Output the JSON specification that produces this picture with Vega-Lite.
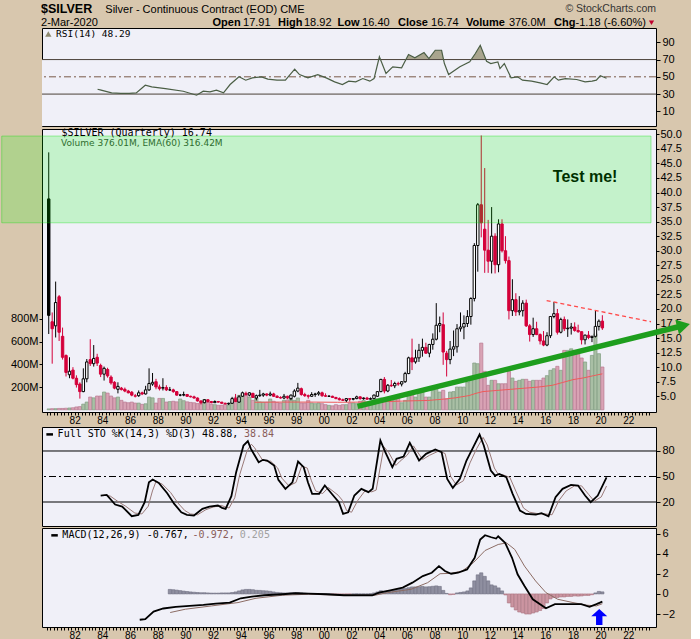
{
"$schema":"https://vega.github.io/schema/vega-lite/v6.json",
"background":"#D8C7AE",
"padding":{"left":0,"top":2,"right":0,"bottom":0},
"spacing":0,
"config":{"view":{"stroke":"#000000","strokeWidth":1,"fill":"#F0F0F8"},"axis":{"labelFont":"Liberation Sans","labelFontSize":11,"labelColor":"#000000","tickColor":"#000000","tickWidth":1,"grid":false,"domain":false,"labelOverlap":false,"labelBound":false,"labelFlush":false},"text":{"font":"Liberation Sans"}},
"resolve":{"scale":{"x":"independent","y":"independent"}},
"datasets":{
"q":[
{"t":1980.125,"o":38.9,"h":46.9,"l":15.7,"c":18.9,"v":8,"dir":"u"},
{"t":1980.375,"o":17.8,"h":19.4,"l":10.6,"c":16.6,"v":10,"dir":"d"},
{"t":1980.625,"o":17.1,"h":24.7,"l":15.1,"c":21.1,"v":10,"dir":"u"},
{"t":1980.875,"o":22.1,"h":22.4,"l":14.5,"c":16.0,"v":12,"dir":"d"},
{"t":1981.125,"o":15.3,"h":16.8,"l":11.3,"c":11.7,"v":12,"dir":"d"},
{"t":1981.375,"o":12.0,"h":12.2,"l":8.4,"c":9.1,"v":14,"dir":"d"},
{"t":1981.625,"o":8.7,"h":11.7,"l":8.1,"c":9.3,"v":16,"dir":"u"},
{"t":1981.875,"o":9.5,"h":10.0,"l":7.9,"c":8.1,"v":18,"dir":"d"},
{"t":1982.125,"o":8.1,"h":8.6,"l":6.5,"c":7.0,"v":25,"dir":"d"},
{"t":1982.375,"o":7.1,"h":7.4,"l":4.6,"c":5.8,"v":28,"dir":"d"},
{"t":1982.625,"o":5.8,"h":9.8,"l":5.7,"c":8.0,"v":50,"dir":"u"},
{"t":1982.875,"o":8.0,"h":11.4,"l":7.4,"c":10.9,"v":68,"dir":"u"},
{"t":1983.125,"o":11.3,"h":14.8,"l":10.2,"c":10.6,"v":112,"dir":"d"},
{"t":1983.375,"o":10.6,"h":13.8,"l":10.1,"c":11.5,"v":105,"dir":"u"},
{"t":1983.625,"o":11.7,"h":12.3,"l":10.2,"c":10.7,"v":121,"dir":"d"},
{"t":1983.875,"o":10.3,"h":10.6,"l":8.3,"c":8.8,"v":121,"dir":"d"},
{"t":1984.125,"o":8.8,"h":10.1,"l":7.7,"c":9.8,"v":156,"dir":"u"},
{"t":1984.375,"o":9.6,"h":9.9,"l":8.2,"c":8.5,"v":147,"dir":"d"},
{"t":1984.625,"o":8.3,"h":8.6,"l":7.0,"c":7.3,"v":121,"dir":"d"},
{"t":1984.875,"o":7.4,"h":7.6,"l":6.2,"c":6.4,"v":105,"dir":"d"},
{"t":1985.125,"o":6.2,"h":7.4,"l":5.5,"c":6.7,"v":112,"dir":"u"},
{"t":1985.375,"o":6.4,"h":6.6,"l":6.0,"c":6.15,"v":83,"dir":"d"},
{"t":1985.625,"o":6.2,"h":6.5,"l":5.7,"c":5.9,"v":68,"dir":"d"},
{"t":1985.875,"o":5.9,"h":6.1,"l":5.5,"c":5.6,"v":62,"dir":"d"},
{"t":1986.125,"o":5.7,"h":5.9,"l":5.0,"c":5.2,"v":68,"dir":"d"},
{"t":1986.375,"o":5.0,"h":5.4,"l":4.8,"c":5.1,"v":59,"dir":"d"},
{"t":1986.625,"o":5.1,"h":6.0,"l":4.9,"c":5.6,"v":59,"dir":"u"},
{"t":1986.875,"o":5.6,"h":5.8,"l":5.2,"c":5.4,"v":48,"dir":"d"},
{"t":1987.125,"o":5.4,"h":6.8,"l":5.3,"c":6.1,"v":53,"dir":"u"},
{"t":1987.375,"o":6.1,"h":9.8,"l":5.9,"c":7.2,"v":112,"dir":"u"},
{"t":1987.625,"o":7.1,"h":9.0,"l":6.8,"c":7.4,"v":105,"dir":"u"},
{"t":1987.875,"o":7.5,"h":8.0,"l":6.2,"c":6.6,"v":59,"dir":"d"},
{"t":1988.125,"o":6.6,"h":7.0,"l":6.0,"c":6.3,"v":100,"dir":"d"},
{"t":1988.375,"o":6.4,"h":8.1,"l":6.0,"c":6.5,"v":100,"dir":"u"},
{"t":1988.625,"o":6.5,"h":6.9,"l":5.9,"c":6.1,"v":68,"dir":"d"},
{"t":1988.875,"o":6.1,"h":6.6,"l":5.9,"c":6.1,"v":72,"dir":"u"},
{"t":1989.125,"o":6.1,"h":6.3,"l":5.6,"c":5.8,"v":75,"dir":"d"},
{"t":1989.375,"o":5.8,"h":5.9,"l":5.1,"c":5.2,"v":70,"dir":"d"},
{"t":1989.625,"o":5.2,"h":5.4,"l":5.0,"c":5.2,"v":95,"dir":"u"},
{"t":1989.875,"o":5.2,"h":5.8,"l":5.0,"c":5.3,"v":80,"dir":"u"},
{"t":1990.125,"o":5.3,"h":5.4,"l":4.9,"c":5.0,"v":70,"dir":"d"},
{"t":1990.375,"o":5.0,"h":5.1,"l":4.8,"c":4.9,"v":65,"dir":"d"},
{"t":1990.625,"o":4.9,"h":5.1,"l":4.6,"c":4.7,"v":62,"dir":"d"},
{"t":1990.875,"o":4.7,"h":4.8,"l":4.1,"c":4.2,"v":55,"dir":"d"},
{"t":1991.125,"o":4.2,"h":4.3,"l":3.6,"c":3.9,"v":60,"dir":"d"},
{"t":1991.375,"o":3.9,"h":4.5,"l":3.8,"c":4.4,"v":90,"dir":"u"},
{"t":1991.625,"o":4.4,"h":4.5,"l":3.9,"c":4.1,"v":68,"dir":"d"},
{"t":1991.875,"o":4.1,"h":4.2,"l":3.8,"c":3.9,"v":48,"dir":"d"},
{"t":1992.125,"o":3.9,"h":4.3,"l":3.9,"c":4.1,"v":45,"dir":"u"},
{"t":1992.375,"o":4.1,"h":4.2,"l":3.9,"c":4.0,"v":40,"dir":"d"},
{"t":1992.625,"o":4.0,"h":4.0,"l":3.7,"c":3.8,"v":40,"dir":"d"},
{"t":1992.875,"o":3.8,"h":3.9,"l":3.6,"c":3.7,"v":50,"dir":"d"},
{"t":1993.125,"o":3.7,"h":3.9,"l":3.5,"c":3.8,"v":42,"dir":"u"},
{"t":1993.375,"o":3.8,"h":4.9,"l":3.7,"c":4.6,"v":72,"dir":"u"},
{"t":1993.625,"o":4.6,"h":5.4,"l":4.0,"c":4.1,"v":110,"dir":"d"},
{"t":1993.875,"o":4.0,"h":5.2,"l":3.9,"c":4.9,"v":127,"dir":"u"},
{"t":1994.125,"o":5.0,"h":5.8,"l":4.9,"c":5.6,"v":135,"dir":"u"},
{"t":1994.375,"o":5.5,"h":5.8,"l":5.1,"c":5.3,"v":127,"dir":"d"},
{"t":1994.625,"o":5.2,"h":5.7,"l":5.0,"c":5.6,"v":112,"dir":"u"},
{"t":1994.875,"o":5.5,"h":5.6,"l":4.7,"c":4.8,"v":83,"dir":"d"},
{"t":1995.125,"o":4.7,"h":5.3,"l":4.3,"c":5.1,"v":104,"dir":"u"},
{"t":1995.375,"o":5.1,"h":6.1,"l":4.9,"c":5.2,"v":70,"dir":"u"},
{"t":1995.625,"o":5.2,"h":5.6,"l":4.9,"c":5.4,"v":68,"dir":"u"},
{"t":1995.875,"o":5.4,"h":5.5,"l":5.0,"c":5.2,"v":68,"dir":"d"},
{"t":1996.125,"o":5.2,"h":5.8,"l":5.0,"c":5.4,"v":95,"dir":"u"},
{"t":1996.375,"o":5.4,"h":5.6,"l":4.9,"c":5.0,"v":75,"dir":"d"},
{"t":1996.625,"o":5.0,"h":5.2,"l":4.7,"c":4.8,"v":65,"dir":"d"},
{"t":1996.875,"o":4.8,"h":5.0,"l":4.6,"c":4.7,"v":60,"dir":"d"},
{"t":1997.125,"o":4.7,"h":5.4,"l":4.5,"c":5.0,"v":83,"dir":"u"},
{"t":1997.375,"o":5.0,"h":5.1,"l":4.5,"c":4.7,"v":86,"dir":"d"},
{"t":1997.625,"o":4.6,"h":5.3,"l":4.3,"c":5.2,"v":97,"dir":"u"},
{"t":1997.875,"o":5.0,"h":6.2,"l":4.8,"c":5.9,"v":83,"dir":"u"},
{"t":1998.125,"o":5.9,"h":7.3,"l":5.7,"c":6.4,"v":104,"dir":"u"},
{"t":1998.375,"o":6.3,"h":6.5,"l":5.1,"c":5.3,"v":60,"dir":"d"},
{"t":1998.625,"o":5.3,"h":5.6,"l":4.9,"c":5.1,"v":60,"dir":"d"},
{"t":1998.875,"o":5.1,"h":5.3,"l":4.6,"c":5.0,"v":83,"dir":"d"},
{"t":1999.125,"o":5.0,"h":5.7,"l":4.9,"c":5.3,"v":60,"dir":"u"},
{"t":1999.375,"o":5.3,"h":5.6,"l":4.9,"c":5.4,"v":54,"dir":"u"},
{"t":1999.625,"o":5.4,"h":5.9,"l":5.1,"c":5.6,"v":60,"dir":"u"},
{"t":1999.875,"o":5.6,"h":5.8,"l":4.9,"c":5.1,"v":54,"dir":"d"},
{"t":2000.125,"o":5.1,"h":5.5,"l":4.9,"c":5.0,"v":45,"dir":"d"},
{"t":2000.375,"o":5.0,"h":5.2,"l":4.9,"c":5.0,"v":39,"dir":"u"},
{"t":2000.625,"o":5.0,"h":5.1,"l":4.7,"c":4.8,"v":35,"dir":"d"},
{"t":2000.875,"o":4.8,"h":4.9,"l":4.5,"c":4.6,"v":45,"dir":"d"},
{"t":2001.125,"o":4.6,"h":4.8,"l":4.3,"c":4.4,"v":39,"dir":"d"},
{"t":2001.375,"o":4.4,"h":4.6,"l":4.2,"c":4.3,"v":45,"dir":"d"},
{"t":2001.625,"o":4.3,"h":4.7,"l":4.0,"c":4.6,"v":45,"dir":"u"},
{"t":2001.875,"o":4.6,"h":4.7,"l":4.1,"c":4.5,"v":60,"dir":"d"},
{"t":2002.125,"o":4.5,"h":4.7,"l":4.3,"c":4.6,"v":60,"dir":"u"},
{"t":2002.375,"o":4.6,"h":5.1,"l":4.5,"c":4.9,"v":54,"dir":"u"},
{"t":2002.625,"o":4.9,"h":5.0,"l":4.4,"c":4.6,"v":75,"dir":"d"},
{"t":2002.875,"o":4.6,"h":4.8,"l":4.4,"c":4.7,"v":83,"dir":"u"},
{"t":2003.125,"o":4.7,"h":4.9,"l":4.4,"c":4.5,"v":54,"dir":"d"},
{"t":2003.375,"o":4.5,"h":4.8,"l":4.4,"c":4.6,"v":75,"dir":"u"},
{"t":2003.625,"o":4.6,"h":5.3,"l":4.5,"c":5.2,"v":89,"dir":"u"},
{"t":2003.875,"o":5.0,"h":5.9,"l":4.9,"c":5.8,"v":97,"dir":"u"},
{"t":2004.125,"o":5.8,"h":8.0,"l":5.7,"c":7.9,"v":104,"dir":"u"},
{"t":2004.375,"o":7.9,"h":8.3,"l":5.5,"c":5.9,"v":89,"dir":"d"},
{"t":2004.625,"o":5.9,"h":7.1,"l":5.7,"c":6.9,"v":75,"dir":"u"},
{"t":2004.875,"o":6.9,"h":7.8,"l":6.6,"c":6.8,"v":104,"dir":"d"},
{"t":2005.125,"o":6.8,"h":7.5,"l":6.4,"c":7.2,"v":112,"dir":"u"},
{"t":2005.375,"o":7.2,"h":7.5,"l":6.8,"c":7.1,"v":112,"dir":"d"},
{"t":2005.625,"o":7.1,"h":7.6,"l":6.7,"c":7.5,"v":62,"dir":"u"},
{"t":2005.875,"o":7.5,"h":9.2,"l":7.3,"c":8.9,"v":83,"dir":"u"},
{"t":2006.125,"o":8.9,"h":11.8,"l":8.8,"c":11.6,"v":127,"dir":"u"},
{"t":2006.375,"o":11.6,"h":14.9,"l":9.5,"c":10.9,"v":133,"dir":"d"},
{"t":2006.625,"o":10.9,"h":13.0,"l":10.6,"c":11.6,"v":112,"dir":"u"},
{"t":2006.875,"o":11.6,"h":14.0,"l":10.9,"c":12.9,"v":150,"dir":"u"},
{"t":2007.125,"o":12.9,"h":14.9,"l":11.8,"c":13.4,"v":160,"dir":"u"},
{"t":2007.375,"o":13.4,"h":14.2,"l":12.3,"c":12.4,"v":112,"dir":"d"},
{"t":2007.625,"o":12.4,"h":14.0,"l":11.7,"c":13.9,"v":112,"dir":"u"},
{"t":2007.875,"o":13.9,"h":15.8,"l":13.0,"c":14.8,"v":171,"dir":"u"},
{"t":2008.125,"o":14.8,"h":21.0,"l":14.6,"c":17.2,"v":185,"dir":"u"},
{"t":2008.375,"o":17.2,"h":18.7,"l":16.0,"c":17.5,"v":156,"dir":"u"},
{"t":2008.625,"o":17.3,"h":19.4,"l":10.4,"c":12.6,"v":171,"dir":"d"},
{"t":2008.875,"o":12.4,"h":12.8,"l":8.4,"c":11.3,"v":95,"dir":"d"},
{"t":2009.125,"o":11.3,"h":14.5,"l":10.5,"c":13.1,"v":156,"dir":"u"},
{"t":2009.375,"o":13.1,"h":16.3,"l":11.9,"c":13.5,"v":160,"dir":"u"},
{"t":2009.625,"o":13.5,"h":17.4,"l":12.5,"c":16.6,"v":200,"dir":"u"},
{"t":2009.875,"o":16.6,"h":19.4,"l":16.1,"c":16.9,"v":200,"dir":"u"},
{"t":2010.125,"o":16.9,"h":18.9,"l":14.8,"c":17.5,"v":200,"dir":"u"},
{"t":2010.375,"o":17.5,"h":19.8,"l":16.9,"c":18.7,"v":244,"dir":"u"},
{"t":2010.625,"o":18.7,"h":22.0,"l":17.3,"c":21.8,"v":288,"dir":"u"},
{"t":2010.875,"o":21.8,"h":31.3,"l":21.3,"c":30.9,"v":411,"dir":"u"},
{"t":2011.125,"o":30.9,"h":38.2,"l":26.4,"c":37.9,"v":405,"dir":"u"},
{"t":2011.375,"o":37.9,"h":49.8,"l":32.3,"c":34.8,"v":586,"dir":"d"},
{"t":2011.625,"o":33.7,"h":44.2,"l":26.2,"c":30.1,"v":338,"dir":"d"},
{"t":2011.875,"o":30.1,"h":35.3,"l":26.2,"c":28.2,"v":215,"dir":"d"},
{"t":2012.125,"o":28.2,"h":37.5,"l":26.1,"c":32.5,"v":259,"dir":"u"},
{"t":2012.375,"o":32.5,"h":33.0,"l":26.1,"c":27.6,"v":259,"dir":"d"},
{"t":2012.625,"o":27.6,"h":35.4,"l":26.3,"c":34.6,"v":229,"dir":"u"},
{"t":2012.875,"o":34.6,"h":35.4,"l":29.7,"c":30.0,"v":229,"dir":"d"},
{"t":2013.125,"o":30.0,"h":32.5,"l":27.8,"c":28.3,"v":229,"dir":"d"},
{"t":2013.375,"o":28.3,"h":29.0,"l":18.2,"c":19.7,"v":338,"dir":"d"},
{"t":2013.625,"o":19.7,"h":25.1,"l":18.8,"c":21.6,"v":279,"dir":"u"},
{"t":2013.875,"o":21.6,"h":22.7,"l":18.8,"c":19.5,"v":250,"dir":"d"},
{"t":2014.125,"o":19.5,"h":22.2,"l":18.9,"c":19.7,"v":259,"dir":"u"},
{"t":2014.375,"o":19.7,"h":21.5,"l":18.7,"c":21.0,"v":268,"dir":"u"},
{"t":2014.625,"o":21.0,"h":21.6,"l":16.9,"c":17.1,"v":268,"dir":"d"},
{"t":2014.875,"o":17.1,"h":17.4,"l":14.4,"c":15.6,"v":250,"dir":"d"},
{"t":2015.125,"o":15.6,"h":18.5,"l":15.2,"c":16.6,"v":259,"dir":"u"},
{"t":2015.375,"o":16.6,"h":17.8,"l":15.5,"c":15.6,"v":259,"dir":"d"},
{"t":2015.625,"o":15.6,"h":15.8,"l":13.9,"c":14.5,"v":259,"dir":"d"},
{"t":2015.875,"o":14.5,"h":16.2,"l":13.6,"c":13.8,"v":279,"dir":"d"},
{"t":2016.125,"o":13.8,"h":16.0,"l":13.6,"c":15.4,"v":300,"dir":"u"},
{"t":2016.375,"o":15.4,"h":18.8,"l":15.0,"c":18.7,"v":347,"dir":"u"},
{"t":2016.625,"o":18.7,"h":21.2,"l":18.4,"c":19.2,"v":361,"dir":"u"},
{"t":2016.875,"o":19.2,"h":20.0,"l":15.6,"c":16.0,"v":382,"dir":"d"},
{"t":2017.125,"o":16.0,"h":18.5,"l":15.8,"c":18.2,"v":347,"dir":"u"},
{"t":2017.375,"o":18.2,"h":18.7,"l":16.2,"c":16.6,"v":522,"dir":"d"},
{"t":2017.625,"o":16.6,"h":18.2,"l":15.2,"c":16.7,"v":522,"dir":"u"},
{"t":2017.875,"o":16.7,"h":17.6,"l":15.6,"c":16.9,"v":536,"dir":"u"},
{"t":2018.125,"o":16.9,"h":17.7,"l":16.1,"c":16.3,"v":522,"dir":"d"},
{"t":2018.375,"o":16.3,"h":17.3,"l":15.9,"c":16.1,"v":493,"dir":"d"},
{"t":2018.625,"o":16.1,"h":16.1,"l":13.9,"c":14.7,"v":455,"dir":"d"},
{"t":2018.875,"o":14.7,"h":15.6,"l":13.9,"c":15.5,"v":420,"dir":"u"},
{"t":2019.125,"o":15.5,"h":16.2,"l":14.8,"c":15.1,"v":347,"dir":"d"},
{"t":2019.375,"o":15.1,"h":15.4,"l":14.3,"c":15.3,"v":478,"dir":"u"},
{"t":2019.625,"o":15.3,"h":19.7,"l":15.1,"c":17.0,"v":668,"dir":"u"},
{"t":2019.875,"o":17.0,"h":18.2,"l":16.3,"c":17.9,"v":493,"dir":"u"},
{"t":2020.125,"o":17.91,"h":18.92,"l":16.4,"c":16.74,"v":376,"dir":"d"}
],
"ema":[{"t":1995.0,"v":66},{"t":1997,"v":68},{"t":1999,"v":68},{"t":2001,"v":66},{"t":2003,"v":68},{"t":2004.5,"v":72},{"t":2006,"v":78},{"t":2007.5,"v":82},{"t":2008.5,"v":92},{"t":2009.5,"v":105},{"t":2010.5,"v":125},{"t":2011.0,"v":145},{"t":2011.5,"v":160},{"t":2012.5,"v":170},{"t":2013.5,"v":180},{"t":2014.5,"v":190},{"t":2015.5,"v":200},{"t":2016.5,"v":215},{"t":2017.25,"v":240},{"t":2018,"v":265},{"t":2018.75,"v":280},{"t":2019.5,"v":300},{"t":2020.125,"v":316}],
"rsi":[{"t":1983.95,"v":35.6},{"t":1984.2,"v":34.5},{"t":1984.95,"v":31.4},{"t":1985.6,"v":30.9},{"t":1986.2,"v":30.9},{"t":1986.7,"v":31.4},{"t":1987.34,"v":40.3},{"t":1987.8,"v":38.4},{"t":1988.77,"v":36.4},{"t":1990.04,"v":33.3},{"t":1990.99,"v":28.7},{"t":1991.46,"v":33.3},{"t":1991.94,"v":32.5},{"t":1992.4,"v":34.5},{"t":1992.9,"v":31.4},{"t":1993.37,"v":41.1},{"t":1994.0,"v":50},{"t":1994.48,"v":46.1},{"t":1994.95,"v":48.8},{"t":1995.6,"v":50},{"t":1996.05,"v":47.3},{"t":1996.7,"v":46.1},{"t":1997.3,"v":46.1},{"t":1997.96,"v":58.8},{"t":1998.3,"v":52.6},{"t":1998.9,"v":48.8},{"t":1999.6,"v":52.6},{"t":2000.2,"v":48.8},{"t":2000.8,"v":44.2},{"t":2001.35,"v":41.1},{"t":2001.8,"v":45},{"t":2002.3,"v":44.2},{"t":2002.8,"v":48},{"t":2003.3,"v":45},{"t":2003.6,"v":48},{"t":2003.98,"v":73.2},{"t":2004.45,"v":53.8},{"t":2004.93,"v":61.6},{"t":2005.56,"v":60.4},{"t":2006.05,"v":75.8},{"t":2006.5,"v":72},{"t":2007.15,"v":78.2},{"t":2007.5,"v":71.2},{"t":2007.95,"v":80.8},{"t":2008.4,"v":80.8},{"t":2008.6,"v":65.4},{"t":2008.9,"v":52.6},{"t":2009.7,"v":61.6},{"t":2010.4,"v":67.3},{"t":2010.8,"v":77},{"t":2011.15,"v":86.6},{"t":2011.6,"v":68},{"t":2011.9,"v":65.4},{"t":2012.4,"v":67.3},{"t":2012.55,"v":59.6},{"t":2012.86,"v":65.4},{"t":2013.34,"v":48.8},{"t":2013.8,"v":50},{"t":2014.15,"v":46.1},{"t":2014.8,"v":45},{"t":2015.4,"v":43},{"t":2015.9,"v":41.1},{"t":2016.4,"v":50},{"t":2016.7,"v":46.1},{"t":2017.2,"v":48},{"t":2018.0,"v":46.9},{"t":2018.6,"v":44.2},{"t":2019.1,"v":45},{"t":2019.4,"v":46.1},{"t":2019.68,"v":51.2},{"t":2020.125,"v":48.29}],
"sto":[{"t":1984.17,"k":27.6},{"t":1984.6,"k":28.4},{"t":1985.2,"k":17},{"t":1985.7,"k":14.7},{"t":1986.38,"k":3.3},{"t":1986.85,"k":4.9},{"t":1987.3,"k":19.8},{"t":1987.6,"k":43.2},{"t":1987.87,"k":46.4},{"t":1988.3,"k":42.5},{"t":1988.9,"k":30.4},{"t":1989.4,"k":17.8},{"t":1989.9,"k":8},{"t":1990.3,"k":4.9},{"t":1990.8,"k":4.1},{"t":1991.4,"k":11.9},{"t":1991.9,"k":14.7},{"t":1992.5,"k":15.9},{"t":1992.8,"k":13.1},{"t":1993.05,"k":11.9},{"t":1993.46,"k":26.8},{"t":1993.8,"k":55.1},{"t":1994.32,"k":86.4},{"t":1994.63,"k":91.5},{"t":1994.85,"k":82.5},{"t":1995.4,"k":66.8},{"t":1995.7,"k":69.6},{"t":1996.0,"k":68.8},{"t":1996.5,"k":62.9},{"t":1996.8,"k":46},{"t":1997.3,"k":35.5},{"t":1997.8,"k":43.2},{"t":1998.2,"k":67.6},{"t":1998.6,"k":61},{"t":1998.9,"k":43.2},{"t":1999.2,"k":29.6},{"t":1999.7,"k":29.6},{"t":2000.1,"k":39.4},{"t":2000.8,"k":25.6},{"t":2001.1,"k":19.8},{"t":2001.4,"k":6},{"t":2001.76,"k":7.9},{"t":2002.2,"k":27.6},{"t":2002.7,"k":35.5},{"t":2003.2,"k":31.6},{"t":2003.5,"k":35.5},{"t":2004.05,"k":92.3},{"t":2004.4,"k":78.6},{"t":2004.9,"k":61},{"t":2005.2,"k":70.8},{"t":2005.7,"k":73.5},{"t":2006.14,"k":89.6},{"t":2006.8,"k":68.8},{"t":2007.3,"k":76.6},{"t":2007.95,"k":81.7},{"t":2008.4,"k":78.6},{"t":2008.8,"k":47.2},{"t":2009.2,"k":36.6},{"t":2009.7,"k":47.2},{"t":2010.17,"k":68.8},{"t":2010.65,"k":84.5},{"t":2011.1,"k":99.4},{"t":2011.4,"k":86.4},{"t":2011.9,"k":57},{"t":2012.2,"k":51.1},{"t":2012.5,"k":53.1},{"t":2013.0,"k":49.2},{"t":2013.45,"k":29.6},{"t":2013.97,"k":10},{"t":2014.4,"k":6},{"t":2015.1,"k":5.3},{"t":2015.5,"k":6.9},{"t":2016.0,"k":3.3},{"t":2016.5,"k":25.6},{"t":2017.0,"k":35.5},{"t":2017.6,"k":40.2},{"t":2018.1,"k":39.4},{"t":2018.6,"k":27.6},{"t":2019.0,"k":19.8},{"t":2019.5,"k":27.6},{"t":2020.125,"k":48.88}],
"stod":[{"t":1984.4,"d":28},{"t":1984.85,"d":27},{"t":1985.45,"d":20},{"t":1985.95,"d":15},{"t":1986.6,"d":7},{"t":1987.1,"d":6},{"t":1987.55,"d":15},{"t":1987.85,"d":33},{"t":1988.1,"d":44},{"t":1988.55,"d":41},{"t":1989.15,"d":31},{"t":1989.65,"d":19},{"t":1990.15,"d":10},{"t":1990.55,"d":6},{"t":1991.05,"d":5},{"t":1991.65,"d":11},{"t":1992.15,"d":14},{"t":1992.75,"d":16},{"t":1993.05,"d":14},{"t":1993.3,"d":13},{"t":1993.7,"d":25},{"t":1994.05,"d":52},{"t":1994.57,"d":80},{"t":1994.88,"d":88},{"t":1995.1,"d":84},{"t":1995.65,"d":70},{"t":1995.95,"d":68},{"t":1996.25,"d":68},{"t":1996.75,"d":60},{"t":1997.05,"d":48},{"t":1997.55,"d":39},{"t":1998.05,"d":43},{"t":1998.45,"d":62},{"t":1998.85,"d":60},{"t":1999.15,"d":45},{"t":1999.45,"d":33},{"t":1999.95,"d":30},{"t":2000.35,"d":37},{"t":2001.05,"d":28},{"t":2001.35,"d":22},{"t":2001.65,"d":10},{"t":2002.0,"d":8},{"t":2002.45,"d":22},{"t":2002.95,"d":33},{"t":2003.45,"d":32},{"t":2003.75,"d":34},{"t":2004.3,"d":85},{"t":2004.65,"d":78},{"t":2005.15,"d":63},{"t":2005.45,"d":68},{"t":2005.95,"d":75},{"t":2006.4,"d":86},{"t":2007.05,"d":70},{"t":2007.55,"d":75},{"t":2008.2,"d":80},{"t":2008.65,"d":77},{"t":2009.05,"d":50},{"t":2009.45,"d":40},{"t":2009.95,"d":45},{"t":2010.42,"d":66},{"t":2010.9,"d":83},{"t":2011.35,"d":96},{"t":2011.65,"d":87},{"t":2012.15,"d":60},{"t":2012.45,"d":52},{"t":2012.75,"d":52},{"t":2013.25,"d":49},{"t":2013.7,"d":32},{"t":2014.22,"d":13},{"t":2014.65,"d":8},{"t":2015.35,"d":6},{"t":2015.75,"d":6},{"t":2016.25,"d":5},{"t":2016.75,"d":22},{"t":2017.25,"d":33},{"t":2017.85,"d":39},{"t":2018.35,"d":39},{"t":2018.85,"d":29},{"t":2019.25,"d":21},{"t":2019.75,"d":26},{"t":2020.125,"d":38.84}],
"macd":[{"t":1986.7,"m":-2.57},{"t":1987.1,"m":-2.5},{"t":1987.7,"m":-1.75},{"t":1988.4,"m":-1.45},{"t":1989.3,"m":-1.29},{"t":1990.3,"m":-1.19},{"t":1991.3,"m":-1.09},{"t":1992.2,"m":-0.96},{"t":1993.2,"m":-0.86},{"t":1994.0,"m":-0.43},{"t":1994.8,"m":-0.26},{"t":1995.7,"m":-0.13},{"t":1997.0,"m":-0.03},{"t":1997.96,"m":0.07},{"t":1998.9,"m":0.03},{"t":2000.2,"m":-0.03},{"t":2001.45,"m":-0.13},{"t":2002.7,"m":-0.13},{"t":2003.5,"m":-0.13},{"t":2003.98,"m":0.13},{"t":2004.8,"m":0.36},{"t":2005.7,"m":0.63},{"t":2006.4,"m":1.12},{"t":2007.15,"m":1.78},{"t":2007.8,"m":2.11},{"t":2008.32,"m":2.77},{"t":2008.75,"m":2.28},{"t":2009.2,"m":2.01},{"t":2009.7,"m":2.11},{"t":2010.35,"m":2.44},{"t":2010.9,"m":3.6},{"t":2011.3,"m":5.41},{"t":2011.65,"m":5.84},{"t":2012.1,"m":5.64},{"t":2012.45,"m":5.51},{"t":2012.6,"m":5.74},{"t":2013.1,"m":5.08},{"t":2013.6,"m":3.6},{"t":2014.0,"m":1.95},{"t":2014.5,"m":0.79},{"t":2015.1,"m":-0.53},{"t":2016.05,"m":-1.42},{"t":2016.7,"m":-1.02},{"t":2017.6,"m":-1.02},{"t":2018.6,"m":-1.02},{"t":2019.2,"m":-1.29},{"t":2019.7,"m":-1.02},{"t":2020.125,"m":-0.767}],
"sig":[{"t":1988.9,"s":-1.85},{"t":1990.0,"s":-1.52},{"t":1991.9,"s":-1.19},{"t":1993.8,"s":-0.86},{"t":1995.1,"s":-0.43},{"t":1997.0,"s":-0.13},{"t":1998.9,"s":-0.03},{"t":2001.45,"s":-0.13},{"t":2003.7,"s":-0.13},{"t":2004.6,"s":0.13},{"t":2006.3,"s":0.46},{"t":2007.5,"s":1.12},{"t":2008.4,"s":2.01},{"t":2009.2,"s":2.05},{"t":2010.0,"s":2.28},{"t":2010.8,"s":3.1},{"t":2011.65,"s":4.32},{"t":2012.6,"s":4.92},{"t":2013.2,"s":5.08},{"t":2013.8,"s":4.42},{"t":2014.5,"s":2.77},{"t":2015.3,"s":1.29},{"t":2016.05,"s":0.13},{"t":2016.9,"s":-0.53},{"t":2018.0,"s":-0.86},{"t":2019.0,"s":-1.12},{"t":2019.7,"s":-1.19},{"t":2020.125,"s":-0.972}],
"hist":[{"t":1988.875,"h":0.45},{"t":1989.125,"h":0.42},{"t":1989.375,"h":0.38},{"t":1989.625,"h":0.33},{"t":1989.875,"h":0.28},{"t":1990.125,"h":0.24},{"t":1990.375,"h":0.2},{"t":1990.625,"h":0.17},{"t":1990.875,"h":0.14},{"t":1991.125,"h":0.12},{"t":1991.375,"h":0.12},{"t":1991.625,"h":0.1},{"t":1991.875,"h":0.08},{"t":1992.125,"h":0.08},{"t":1992.375,"h":0.08},{"t":1992.625,"h":0.1},{"t":1992.875,"h":0.1},{"t":1993.125,"h":0.1},{"t":1993.375,"h":0.14},{"t":1993.625,"h":0.2},{"t":1993.875,"h":0.3},{"t":1994.125,"h":0.4},{"t":1994.375,"h":0.45},{"t":1994.625,"h":0.45},{"t":1994.875,"h":0.42},{"t":1995.125,"h":0.36},{"t":1995.375,"h":0.35},{"t":1995.625,"h":0.32},{"t":1995.875,"h":0.3},{"t":1996.125,"h":0.26},{"t":1996.375,"h":0.2},{"t":1996.625,"h":0.15},{"t":1996.875,"h":0.12},{"t":1997.125,"h":0.1},{"t":1997.375,"h":0.1},{"t":1997.625,"h":0.12},{"t":1997.875,"h":0.14},{"t":1998.125,"h":0.14},{"t":1998.375,"h":0.1},{"t":1998.625,"h":0.06},{"t":1998.875,"h":0.04},{"t":1999.125,"h":0.03},{"t":1999.375,"h":0.03},{"t":1999.625,"h":0.03},{"t":1999.875,"h":0.02},{"t":2000.125,"h":0.01},{"t":2000.375,"h":0.01},{"t":2000.625,"h":-0.01},{"t":2000.875,"h":-0.02},{"t":2001.125,"h":-0.03},{"t":2001.375,"h":-0.03},{"t":2001.625,"h":-0.02},{"t":2001.875,"h":-0.01},{"t":2002.125,"h":0.0},{"t":2002.375,"h":0.01},{"t":2002.625,"h":0.0},{"t":2002.875,"h":0.0},{"t":2003.125,"h":0.0},{"t":2003.375,"h":0.02},{"t":2003.625,"h":0.1},{"t":2003.875,"h":0.2},{"t":2004.125,"h":0.32},{"t":2004.375,"h":0.25},{"t":2004.625,"h":0.28},{"t":2004.875,"h":0.32},{"t":2005.125,"h":0.42},{"t":2005.375,"h":0.45},{"t":2005.625,"h":0.5},{"t":2005.875,"h":0.55},{"t":2006.125,"h":0.62},{"t":2006.375,"h":0.7},{"t":2006.625,"h":0.7},{"t":2006.875,"h":0.72},{"t":2007.125,"h":0.75},{"t":2007.375,"h":0.7},{"t":2007.625,"h":0.72},{"t":2007.875,"h":0.76},{"t":2008.125,"h":0.8},{"t":2008.375,"h":0.75},{"t":2008.625,"h":0.35},{"t":2008.875,"h":0.05},{"t":2009.125,"h":-0.08},{"t":2009.375,"h":-0.05},{"t":2009.625,"h":0.1},{"t":2009.875,"h":0.15},{"t":2010.125,"h":0.2},{"t":2010.375,"h":0.3},{"t":2010.625,"h":0.6},{"t":2010.875,"h":1.3},{"t":2011.125,"h":1.9},{"t":2011.375,"h":2.1},{"t":2011.625,"h":1.75},{"t":2011.875,"h":1.3},{"t":2012.125,"h":0.9},{"t":2012.375,"h":0.8},{"t":2012.625,"h":0.6},{"t":2012.875,"h":0.3},{"t":2013.125,"h":-0.1},{"t":2013.375,"h":-0.9},{"t":2013.625,"h":-1.3},{"t":2013.875,"h":-1.6},{"t":2014.125,"h":-1.8},{"t":2014.375,"h":-1.9},{"t":2014.625,"h":-2.0},{"t":2014.875,"h":-2.0},{"t":2015.125,"h":-1.9},{"t":2015.375,"h":-1.8},{"t":2015.625,"h":-1.65},{"t":2015.875,"h":-1.45},{"t":2016.125,"h":-0.9},{"t":2016.375,"h":-0.5},{"t":2016.625,"h":-0.35},{"t":2016.875,"h":-0.35},{"t":2017.125,"h":-0.3},{"t":2017.375,"h":-0.3},{"t":2017.625,"h":-0.25},{"t":2017.875,"h":-0.25},{"t":2018.125,"h":-0.2},{"t":2018.375,"h":-0.22},{"t":2018.625,"h":-0.2},{"t":2018.875,"h":-0.15},{"t":2019.125,"h":-0.15},{"t":2019.375,"h":-0.08},{"t":2019.625,"h":0.1},{"t":2019.875,"h":0.25},{"t":2020.125,"h":0.205}]
},
"vconcat":[
{
"width":614,"height":98,
"resolve":{"axis":{"x":"independent","y":"independent"}},
"layer":[
{"data":{"name":"rsi"},"mark":{"type":"area","color":"#A9A58E"},"encoding":{"x":{"field":"t","type":"quantitative","scale":{"domain":[1980,2023.64],"nice":false,"zero":false},"axis":null},"y":{"field":"v","type":"quantitative","title":null,"scale":{"domain":[-7,106.6],"nice":false,"zero":false},"axis":{"orient":"right","values":[10,30,50,70,90],"tickSize":4,"labelPadding":2,"labelOverlap":false,"title":null,"domain":false,"grid":false}},"y2":{"datum":70}}},
{"data":{"values":[{}]},"mark":{"type":"rect","color":"#F0F0F8"},"encoding":{"x":{"datum":1980,"axis":null},"x2":{"datum":2023.64},"y":{"datum":70,"axis":null},"y2":{"datum":-7}}},
{"data":{"values":[{}]},"mark":{"type":"rule","color":"#4A4038","strokeWidth":1},"encoding":{"y":{"datum":70,"axis":null}}},
{"data":{"values":[{}]},"mark":{"type":"rule","color":"#4A4038","strokeWidth":1},"encoding":{"y":{"datum":30,"axis":null}}},
{"data":{"values":[{}]},"mark":{"type":"rule","color":"#7A5A48","strokeWidth":1,"strokeDash":[7,3,2,3]},"encoding":{"y":{"datum":50,"axis":null}}},
{"data":{"name":"rsi"},"mark":{"type":"line","color":"#4B5E45","strokeWidth":1.2},"encoding":{"x":{"field":"t","type":"quantitative","axis":null},"y":{"field":"v","type":"quantitative","title":null,"axis":null}}},
{"data":{"values":[{}]},"mark":{"type":"point","shape":"triangle-up","filled":true,"color":"#8E8A70","size":40,"opacity":1},"encoding":{"x":{"datum":1980.45,"axis":null},"y":{"datum":99.6,"axis":null}}},
{"data":{"values":[{}]},"mark":{"type":"text","text":"RSI(14) 48.29","font":"DejaVu Sans Mono","fontSize":9.5,"align":"left","baseline":"middle","color":"#000000"},"encoding":{"x":{"datum":1981.0,"axis":null},"y":{"datum":99.6,"axis":null}}},
{"data":{"values":[{}]},"mark":{"type":"text","text":"$SILVER","fontSize":12.5,"fontWeight":"bold","align":"left","baseline":"alphabetic","color":"#000000"},"encoding":{"x":{"datum":1979.93,"axis":null},"y":{"datum":124.0,"axis":null}}},
{"data":{"values":[{}]},"mark":{"type":"text","text":"Silver - Continuous Contract (EOD) CME","fontSize":11,"align":"left","baseline":"alphabetic","color":"#000000"},"encoding":{"x":{"datum":1984.5,"axis":null},"y":{"datum":124.0,"axis":null}}},
{"data":{"values":[{}]},"mark":{"type":"text","text":"© StockCharts.com","fontSize":10.5,"align":"right","baseline":"alphabetic","color":"#333333"},"encoding":{"x":{"datum":2023.64,"axis":null},"y":{"datum":124.6,"axis":null}}},
{"data":{"values":[{}]},"mark":{"type":"text","text":"2-Mar-2020","fontSize":11,"align":"left","baseline":"alphabetic","color":"#000000"},"encoding":{"x":{"datum":1979.93,"axis":null},"y":{"datum":109.0,"axis":null}}},
{"data":{"values":[{}]},"mark":{"type":"text","text":"Open","fontSize":11,"fontWeight":"bold","align":"left","baseline":"alphabetic","color":"#000000"},"encoding":{"x":{"datum":1992.12,"axis":null},"y":{"datum":109.0,"axis":null}}},
{"data":{"values":[{}]},"mark":{"type":"text","text":"17.91","fontSize":11,"align":"left","baseline":"alphabetic","color":"#000000"},"encoding":{"x":{"datum":1994.29,"axis":null},"y":{"datum":109.0,"axis":null}}},
{"data":{"values":[{}]},"mark":{"type":"text","text":"High","fontSize":11,"fontWeight":"bold","align":"left","baseline":"alphabetic","color":"#000000"},"encoding":{"x":{"datum":1996.77,"axis":null},"y":{"datum":109.0,"axis":null}}},
{"data":{"values":[{}]},"mark":{"type":"text","text":"18.92","fontSize":11,"align":"left","baseline":"alphabetic","color":"#000000"},"encoding":{"x":{"datum":1998.62,"axis":null},"y":{"datum":109.0,"axis":null}}},
{"data":{"values":[{}]},"mark":{"type":"text","text":"Low","fontSize":11,"fontWeight":"bold","align":"left","baseline":"alphabetic","color":"#000000"},"encoding":{"x":{"datum":2001.0,"axis":null},"y":{"datum":109.0,"axis":null}}},
{"data":{"values":[{}]},"mark":{"type":"text","text":"16.40","fontSize":11,"align":"left","baseline":"alphabetic","color":"#000000"},"encoding":{"x":{"datum":2002.75,"axis":null},"y":{"datum":109.0,"axis":null}}},
{"data":{"values":[{}]},"mark":{"type":"text","text":"Close","fontSize":11,"fontWeight":"bold","align":"left","baseline":"alphabetic","color":"#000000"},"encoding":{"x":{"datum":2005.3,"axis":null},"y":{"datum":109.0,"axis":null}}},
{"data":{"values":[{}]},"mark":{"type":"text","text":"16.74","fontSize":11,"align":"left","baseline":"alphabetic","color":"#000000"},"encoding":{"x":{"datum":2007.65,"axis":null},"y":{"datum":109.0,"axis":null}}},
{"data":{"values":[{}]},"mark":{"type":"text","text":"Volume","fontSize":11,"fontWeight":"bold","align":"left","baseline":"alphabetic","color":"#000000"},"encoding":{"x":{"datum":2010.14,"axis":null},"y":{"datum":109.0,"axis":null}}},
{"data":{"values":[{}]},"mark":{"type":"text","text":"376.0M","fontSize":11,"align":"left","baseline":"alphabetic","color":"#000000"},"encoding":{"x":{"datum":2013.19,"axis":null},"y":{"datum":109.0,"axis":null}}},
{"data":{"values":[{}]},"mark":{"type":"text","text":"Chg","fontSize":11,"fontWeight":"bold","align":"left","baseline":"alphabetic","color":"#000000"},"encoding":{"x":{"datum":2016.39,"axis":null},"y":{"datum":109.0,"axis":null}}},
{"data":{"values":[{}]},"mark":{"type":"text","text":"-1.18 (-6.60%)","fontSize":11,"align":"left","baseline":"alphabetic","color":"#000000"},"encoding":{"x":{"datum":2017.92,"axis":null},"y":{"datum":109.0,"axis":null}}},
{"data":{"values":[{}]},"mark":{"type":"point","shape":"triangle-down","filled":true,"color":"#C0002E","size":28,"opacity":1},"encoding":{"x":{"datum":2023.32,"axis":null},"y":{"datum":112.6,"axis":null}}}
]
},
{
"width":614,"height":283,
"layer":[
{"resolve":{"axis":{"x":"independent","y":"independent"}},"layer":[
{"data":{"name":"q"},"mark":{"type":"bar","width":3.2,"strokeWidth":0.7},"encoding":{"x":{"field":"t","type":"quantitative","title":null,"scale":{"domain":[1980,2023.64],"nice":false,"zero":false},"axis":{"orient":"bottom","values":[1980,1980.25,1980.5,1980.75,1981,1981.25,1981.5,1981.75,1982,1982.25,1982.5,1982.75,1983,1983.25,1983.5,1983.75,1984,1984.25,1984.5,1984.75,1985,1985.25,1985.5,1985.75,1986,1986.25,1986.5,1986.75,1987,1987.25,1987.5,1987.75,1988,1988.25,1988.5,1988.75,1989,1989.25,1989.5,1989.75,1990,1990.25,1990.5,1990.75,1991,1991.25,1991.5,1991.75,1992,1992.25,1992.5,1992.75,1993,1993.25,1993.5,1993.75,1994,1994.25,1994.5,1994.75,1995,1995.25,1995.5,1995.75,1996,1996.25,1996.5,1996.75,1997,1997.25,1997.5,1997.75,1998,1998.25,1998.5,1998.75,1999,1999.25,1999.5,1999.75,2000,2000.25,2000.5,2000.75,2001,2001.25,2001.5,2001.75,2002,2002.25,2002.5,2002.75,2003,2003.25,2003.5,2003.75,2004,2004.25,2004.5,2004.75,2005,2005.25,2005.5,2005.75,2006,2006.25,2006.5,2006.75,2007,2007.25,2007.5,2007.75,2008,2008.25,2008.5,2008.75,2009,2009.25,2009.5,2009.75,2010,2010.25,2010.5,2010.75,2011,2011.25,2011.5,2011.75,2012,2012.25,2012.5,2012.75,2013,2013.25,2013.5,2013.75,2014,2014.25,2014.5,2014.75,2015,2015.25,2015.5,2015.75,2016,2016.25,2016.5,2016.75,2017,2017.25,2017.5,2017.75,2018,2018.25,2018.5,2018.75,2019,2019.25,2019.5,2019.75,2020,2020.25,2020.5,2020.75,2021,2021.25,2021.5,2021.75,2022,2022.25,2022.5,2022.75,2023,2023.25,2023.5],"labelExpr":"(datum.value % 2 == 0 && datum.value > 1980) ? substring(toString(datum.value), 2) : ''","tickSize":3,"labelPadding":0,"labelFontSize":10,"labelOverlap":false,"labelBound":false,"labelFlush":false,"domain":false,"grid":false,"title":null}},"y":{"field":"v","type":"quantitative","title":null,"scale":{"domain":[-19.3,2467],"nice":false,"zero":false},"axis":{"orient":"left","values":[200,400,600,800],"labelExpr":"datum.value + 'M'","tickSize":3,"labelPadding":1,"labelOverlap":false,"title":null,"domain":false,"grid":false}},"y2":{"datum":0},"fill":{"condition":{"test":"datum.dir == 'u'","value":"#A9BFA5"},"value":"#D9A3B5"},"stroke":{"condition":{"test":"datum.dir == 'u'","value":"#7F9C7F"},"value":"#B97990"}}},
{"data":{"name":"ema"},"mark":{"type":"line","color":"#EE5A5A","strokeWidth":1},"encoding":{"x":{"field":"t","type":"quantitative","title":null,"axis":null},"y":{"field":"v","type":"quantitative","title":null,"axis":null}}}
]},
{"resolve":{"axis":{"x":"independent","y":"independent"}},"layer":[
{"data":{"name":"q"},"mark":{"type":"rule","strokeWidth":1},"encoding":{"x":{"field":"t","type":"quantitative","title":null,"axis":null},"y":{"field":"l","type":"quantitative","title":null,"scale":{"domain":[2.3,50.91],"nice":false,"zero":false},"axis":{"orient":"right","values":[5,7.5,10,12.5,15,17.5,20,22.5,25,27.5,30,32.5,35,37.5,40,42.5,45,47.5,50],"format":".1f","tickSize":3,"labelPadding":1,"labelOverlap":false,"title":null,"domain":false,"grid":false}},"y2":{"field":"h"},"color":{"condition":{"test":"datum.dir == 'u'","value":"#000000"},"value":"#D4003A"}}},
{"data":{"name":"q"},"mark":{"type":"bar","width":2.4,"strokeWidth":1},"encoding":{"x":{"field":"t","type":"quantitative","title":null,"axis":null},"y":{"field":"o","type":"quantitative","title":null,"axis":null},"y2":{"field":"c"},"fill":{"condition":[{"test":"datum.c > datum.o","value":"#FFFFFF"},{"test":"datum.dir == 'u'","value":"#000000"}],"value":"#D4003A"},"stroke":{"condition":{"test":"datum.dir == 'u'","value":"#000000"},"value":"#D4003A"}}},
{"data":{"values":[{}]},"mark":{"type":"text","text":"Test me!","fontSize":16,"fontWeight":"bold","align":"center","baseline":"middle","color":"#000000"},"encoding":{"x":{"datum":2018.88,"axis":null},"y":{"datum":42.62,"axis":null}}},
{"data":{"values":[{}]},"mark":{"type":"rect","fill":"#00FF00","fillOpacity":0.18,"stroke":"#00DD00","strokeOpacity":0.35,"strokeWidth":1,"clip":false},"encoding":{"x":{"datum":1976.73,"axis":null},"x2":{"datum":2023.64},"y":{"datum":34.8,"axis":null},"y2":{"datum":49.7}}},
{"data":{"values":[{}]},"mark":{"type":"rule","color":"#FF4A4A","strokeWidth":1.3,"strokeDash":[4,3]},"encoding":{"x":{"datum":2016.1,"axis":null},"x2":{"datum":2023.64},"y":{"datum":21.44,"axis":null},"y2":{"datum":17.8}}},
{"data":{"values":[{}]},"mark":{"type":"rule","color":"#1E9E1E","strokeWidth":5.5,"clip":false},"encoding":{"x":{"datum":2002.44,"axis":null},"x2":{"datum":2025.63},"y":{"datum":3.28,"axis":null},"y2":{"datum":16.95}}},
{"data":{"values":[{}]},"mark":{"type":"point","shape":"triangle-right","filled":true,"color":"#1E9E1E","size":230,"angle":-14,"opacity":1,"clip":false},"encoding":{"x":{"datum":2025.99,"axis":null},"y":{"datum":17.16,"axis":null}}},
{"data":{"values":[{}]},"mark":{"type":"text","text":"$SILVER (Quarterly) 16.74","font":"DejaVu Sans Mono","fontSize":10,"align":"left","baseline":"middle","color":"#000000"},"encoding":{"x":{"datum":1981.04,"axis":null},"y":{"datum":50.22,"axis":null}}},
{"data":{"values":[{}]},"mark":{"type":"text","text":"Volume 376.01M, EMA(60) 316.42M","font":"DejaVu Sans","fontSize":9,"align":"left","baseline":"middle","color":"#2E6E2E"},"encoding":{"x":{"datum":1981.02,"axis":null},"y":{"datum":48.56,"axis":null}}}
]}
],
"resolve":{"scale":{"y":"independent"},"axis":{"x":"independent","y":"independent"}}
},
{
"width":614,"height":99,
"resolve":{"axis":{"x":"independent","y":"independent"}},
"layer":[
{"data":{"values":[{}]},"mark":{"type":"rule","color":"#000000","strokeWidth":1},"encoding":{"y":{"datum":80,"axis":null}}},
{"data":{"values":[{}]},"mark":{"type":"rule","color":"#000000","strokeWidth":1},"encoding":{"y":{"datum":20,"axis":null}}},
{"data":{"values":[{}]},"mark":{"type":"rule","color":"#000000","strokeWidth":1,"strokeDash":[7,3,2,3]},"encoding":{"y":{"datum":50,"axis":null}}},
{"data":{"name":"stod"},"mark":{"type":"line","color":"#9A7A78","strokeWidth":1},"encoding":{"x":{"field":"t","type":"quantitative","scale":{"domain":[1980,2023.64],"nice":false,"zero":false},"axis":null},"y":{"field":"d","type":"quantitative","title":null,"axis":null}}},
{"data":{"name":"sto"},"mark":{"type":"line","color":"#000000","strokeWidth":1.8},"encoding":{"x":{"field":"t","type":"quantitative","axis":null},"y":{"field":"k","type":"quantitative","title":null,"scale":{"domain":[-8.2,108.2],"nice":false,"zero":false},"axis":{"orient":"right","values":[20,50,80],"tickSize":4,"labelPadding":2,"labelOverlap":false,"title":null,"domain":false,"grid":false}}}},
{"data":{"values":[{}]},"mark":{"type":"rule","color":"#000000","strokeWidth":2.5},"encoding":{"x":{"datum":1980.31,"axis":null},"x2":{"datum":1980.78},"y":{"datum":99.5,"axis":null}}},
{"data":{"values":[{}]},"mark":{"type":"text","text":"Full STO %K(14,3) %D(3) 48.88,","font":"DejaVu Sans Mono","fontSize":10,"align":"left","baseline":"middle","color":"#000000"},"encoding":{"x":{"datum":1981.11,"axis":null},"y":{"datum":99.5,"axis":null}}},
{"data":{"values":[{}]},"mark":{"type":"text","text":"38.84","font":"DejaVu Sans Mono","fontSize":10,"align":"left","baseline":"middle","color":"#8A5E5A"},"encoding":{"x":{"datum":1994.36,"axis":null},"y":{"datum":99.5,"axis":null}}}
]
},
{
"width":614,"height":99,
"resolve":{"axis":{"x":"independent","y":"independent"}},
"layer":[
{"data":{"name":"hist"},"mark":{"type":"bar","width":3.2,"strokeWidth":0.6},"encoding":{"x":{"field":"t","type":"quantitative","title":null,"scale":{"domain":[1980,2023.64],"nice":false,"zero":false},"axis":{"orient":"bottom","values":[1980,1980.25,1980.5,1980.75,1981,1981.25,1981.5,1981.75,1982,1982.25,1982.5,1982.75,1983,1983.25,1983.5,1983.75,1984,1984.25,1984.5,1984.75,1985,1985.25,1985.5,1985.75,1986,1986.25,1986.5,1986.75,1987,1987.25,1987.5,1987.75,1988,1988.25,1988.5,1988.75,1989,1989.25,1989.5,1989.75,1990,1990.25,1990.5,1990.75,1991,1991.25,1991.5,1991.75,1992,1992.25,1992.5,1992.75,1993,1993.25,1993.5,1993.75,1994,1994.25,1994.5,1994.75,1995,1995.25,1995.5,1995.75,1996,1996.25,1996.5,1996.75,1997,1997.25,1997.5,1997.75,1998,1998.25,1998.5,1998.75,1999,1999.25,1999.5,1999.75,2000,2000.25,2000.5,2000.75,2001,2001.25,2001.5,2001.75,2002,2002.25,2002.5,2002.75,2003,2003.25,2003.5,2003.75,2004,2004.25,2004.5,2004.75,2005,2005.25,2005.5,2005.75,2006,2006.25,2006.5,2006.75,2007,2007.25,2007.5,2007.75,2008,2008.25,2008.5,2008.75,2009,2009.25,2009.5,2009.75,2010,2010.25,2010.5,2010.75,2011,2011.25,2011.5,2011.75,2012,2012.25,2012.5,2012.75,2013,2013.25,2013.5,2013.75,2014,2014.25,2014.5,2014.75,2015,2015.25,2015.5,2015.75,2016,2016.25,2016.5,2016.75,2017,2017.25,2017.5,2017.75,2018,2018.25,2018.5,2018.75,2019,2019.25,2019.5,2019.75,2020,2020.25,2020.5,2020.75,2021,2021.25,2021.5,2021.75,2022,2022.25,2022.5,2022.75,2023,2023.25,2023.5],"labelExpr":"(datum.value % 2 == 0 && datum.value > 1980) ? substring(toString(datum.value), 2) : ''","tickSize":3,"labelPadding":0,"labelFontSize":10,"labelOverlap":false,"labelBound":false,"labelFlush":false,"domain":false,"grid":false,"title":null}},"y":{"field":"h","type":"quantitative","title":null,"scale":{"domain":[-3.29,6.56],"nice":false,"zero":false},"axis":{"orient":"right","values":[-2,0,2,4,6],"tickSize":4,"labelPadding":2,"labelOverlap":false,"title":null,"domain":false,"grid":false}},"y2":{"datum":0},"fill":{"condition":{"test":"datum.h >= 0","value":"#8F8FA0"},"value":"#CB95A1"},"stroke":{"condition":{"test":"datum.h >= 0","value":"#6F6F82"},"value":"#A9737F"}}},
{"data":{"name":"sig"},"mark":{"type":"line","color":"#8C6C64","strokeWidth":1},"encoding":{"x":{"field":"t","type":"quantitative","title":null,"axis":null},"y":{"field":"s","type":"quantitative","title":null,"axis":null}}},
{"data":{"name":"macd"},"mark":{"type":"line","color":"#000000","strokeWidth":1.8},"encoding":{"x":{"field":"t","type":"quantitative","title":null,"axis":null},"y":{"field":"m","type":"quantitative","title":null,"axis":null}}},
{"data":{"values":[{}]},"mark":{"type":"point","shape":"M0,-1L1,-0.1L0.4,-0.1L0.4,1L-0.4,1L-0.4,-0.1L-1,-0.1Z","filled":true,"color":"#0000FF","size":256,"opacity":1},"encoding":{"x":{"datum":2019.9,"axis":null},"y":{"datum":-2.29,"axis":null}}},
{"data":{"values":[{}]},"mark":{"type":"rule","color":"#000000","strokeWidth":2.5},"encoding":{"x":{"datum":1980.31,"axis":null},"x2":{"datum":1980.78},"y":{"datum":5.83,"axis":null}}},
{"data":{"values":[{}]},"mark":{"type":"text","text":"MACD(12,26,9) -0.767,","font":"DejaVu Sans Mono","fontSize":10,"align":"left","baseline":"middle","color":"#000000"},"encoding":{"x":{"datum":1981.11,"axis":null},"y":{"datum":5.83,"axis":null}}},
{"data":{"values":[{}]},"mark":{"type":"text","text":"-0.972,","font":"DejaVu Sans Mono","fontSize":10,"align":"left","baseline":"middle","color":"#8A5E5A"},"encoding":{"x":{"datum":1990.52,"axis":null},"y":{"datum":5.83,"axis":null}}},
{"data":{"values":[{}]},"mark":{"type":"text","text":"0.205","font":"DejaVu Sans Mono","fontSize":10,"align":"left","baseline":"middle","color":"#A0A0A0"},"encoding":{"x":{"datum":1993.93,"axis":null},"y":{"datum":5.83,"axis":null}}}
]
}
]
}
